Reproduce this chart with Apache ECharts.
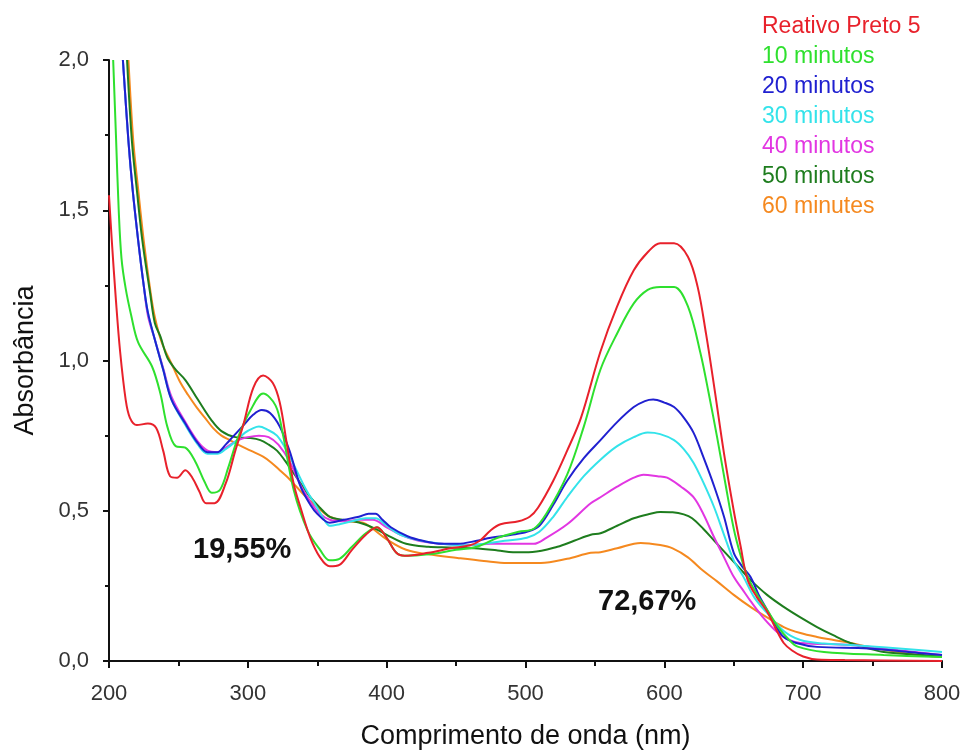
<!DOCTYPE html>
<html>
<head>
<meta charset="utf-8">
<script src="https://cdn.jsdelivr.net/npm/echarts@6/dist/echarts.min.js"></script>
<style>html,body{margin:0;padding:0;background:#fff;}#c{width:965px;height:751px;}</style>
</head>
<body>
<div id="c"></div>
<script>
const seriesNames = ['Reativo Preto 5','10 minutos','20 minutos','30 minutos','40 minutos','50 minutos','60 minutes'];
const xTicks = [200,300,400,500,600,700,800];
const yTicks = [0,0.5,1.0,1.5,2.0];

const reativo = [[200,1.55],[202,1.40],[205,1.20],[208,1.03],[212,0.87],[215,0.81],[220,0.785],[228,0.79],[234,0.775],[239,0.70],[244,0.615],[249,0.61],[255,0.635],[260,0.61],[265,0.565],[270,0.525],[276,0.525],[284,0.59],[291,0.70],[297,0.79],[304,0.91],[311,0.95],[318,0.925],[323,0.86],[328,0.725],[333,0.59],[338,0.51],[345,0.41],[352,0.345],[359,0.315],[366,0.32],[375,0.37],[385,0.42],[393,0.445],[400,0.41],[407,0.36],[413,0.35],[430,0.36],[446,0.375],[460,0.385],[467,0.40],[475,0.435],[482,0.455],[495,0.465],[503,0.48],[509,0.51],[520,0.60],[530,0.70],[540,0.81],[554,1.03],[566,1.18],[578,1.30],[588,1.36],[597,1.39],[607,1.39],[617,1.345],[624,1.245],[630,1.09],[636,0.91],[643,0.69],[650,0.50],[655,0.38],[660,0.27],[667,0.21],[674,0.165],[680,0.11],[686,0.06],[692,0.035],[700,0.015],[710,0.005],[730,0.003],[800,0.0]];

const min10 = [[203,2.0],[205,1.75],[207,1.50],[209,1.34],[212,1.24],[216,1.15],[221,1.06],[231,0.98],[237,0.89],[242,0.78],[248,0.715],[255,0.71],[262,0.665],[269,0.595],[274,0.56],[280,0.57],[286,0.645],[293,0.745],[302,0.835],[311,0.89],[320,0.85],[325,0.76],[333,0.57],[343,0.435],[352,0.37],[359,0.335],[366,0.34],[375,0.38],[385,0.425],[393,0.445],[400,0.41],[407,0.36],[413,0.35],[430,0.355],[450,0.37],[465,0.38],[480,0.41],[495,0.43],[506,0.44],[515,0.49],[530,0.62],[542,0.78],[554,0.97],[566,1.09],[578,1.19],[588,1.235],[597,1.245],[607,1.245],[617,1.18],[626,1.025],[632,0.89],[638,0.745],[644,0.59],[650,0.44],[655,0.35],[660,0.28],[667,0.22],[674,0.17],[682,0.113],[690,0.07],[696,0.048],[715,0.03],[758,0.02],[800,0.013]];

const min20 = [[210,2.0],[214,1.73],[217,1.57],[221,1.40],[225,1.25],[228,1.16],[233,1.07],[239,0.97],[245,0.87],[255,0.79],[264,0.725],[271,0.695],[278,0.695],[284,0.72],[289,0.745],[297,0.785],[304,0.82],[310,0.835],[316,0.825],[323,0.78],[330,0.70],[338,0.58],[345,0.52],[350,0.49],[359,0.46],[369,0.47],[380,0.48],[387,0.49],[392,0.49],[397,0.47],[403,0.445],[415,0.415],[426,0.40],[440,0.39],[451,0.39],[465,0.40],[475,0.41],[490,0.42],[501,0.43],[510,0.45],[520,0.52],[530,0.60],[542,0.675],[554,0.735],[566,0.795],[578,0.845],[586,0.865],[592,0.87],[600,0.86],[607,0.845],[614,0.81],[621,0.76],[628,0.68],[636,0.58],[643,0.48],[650,0.36],[656,0.315],[662,0.28],[668,0.22],[674,0.17],[680,0.12],[686,0.08],[695,0.06],[710,0.047],[747,0.042],[783,0.027],[800,0.02]];

const min30 = [[210,2.0],[214,1.73],[217,1.57],[221,1.40],[225,1.25],[228,1.16],[233,1.07],[239,0.97],[245,0.87],[255,0.785],[264,0.72],[271,0.69],[278,0.69],[284,0.705],[291,0.73],[298,0.76],[304,0.775],[308,0.78],[314,0.77],[321,0.75],[328,0.70],[335,0.635],[342,0.57],[350,0.51],[355,0.47],[359,0.45],[366,0.455],[375,0.465],[385,0.475],[392,0.475],[400,0.45],[410,0.42],[425,0.40],[440,0.39],[455,0.385],[470,0.39],[485,0.40],[501,0.41],[510,0.43],[520,0.48],[530,0.545],[542,0.615],[554,0.67],[566,0.715],[578,0.745],[588,0.76],[597,0.755],[607,0.735],[614,0.705],[621,0.66],[628,0.595],[636,0.51],[643,0.42],[650,0.335],[657,0.28],[665,0.21],[674,0.16],[686,0.10],[698,0.07],[715,0.058],[734,0.053],[760,0.045],[783,0.037],[800,0.03]];

const min40 = [[210,2.0],[214,1.73],[217,1.57],[221,1.40],[225,1.25],[228,1.15],[233,1.07],[239,0.975],[245,0.88],[255,0.795],[264,0.73],[271,0.70],[278,0.695],[284,0.71],[293,0.735],[300,0.745],[308,0.75],[315,0.745],[322,0.72],[330,0.665],[338,0.585],[345,0.53],[352,0.49],[359,0.47],[370,0.465],[380,0.47],[390,0.47],[400,0.445],[410,0.42],[423,0.40],[440,0.39],[460,0.385],[475,0.39],[490,0.39],[506,0.39],[515,0.41],[530,0.455],[547,0.525],[554,0.545],[566,0.58],[578,0.61],[585,0.62],[595,0.615],[602,0.61],[612,0.58],[621,0.545],[628,0.49],[636,0.41],[643,0.345],[650,0.28],[656,0.24],[662,0.20],[672,0.14],[682,0.093],[690,0.07],[698,0.06],[734,0.053],[770,0.035],[800,0.02]];

const min50 = [[213,2.0],[216.5,1.73],[220,1.57],[224,1.40],[229.6,1.225],[233,1.125],[237,1.08],[242,1.01],[248,0.97],[255,0.935],[264,0.87],[274,0.80],[281,0.765],[291,0.745],[302,0.742],[309,0.735],[315,0.72],[321,0.70],[327,0.665],[333,0.625],[339,0.585],[345,0.545],[352,0.51],[359,0.48],[368,0.47],[376,0.465],[384,0.455],[392,0.44],[400,0.42],[414,0.39],[430,0.38],[445,0.378],[463,0.375],[480,0.368],[491,0.362],[505,0.363],[523,0.38],[535,0.40],[547,0.42],[554,0.425],[566,0.45],[578,0.475],[590,0.49],[597,0.496],[606,0.495],[614,0.488],[620,0.475],[628,0.44],[636,0.40],[645,0.355],[655,0.305],[662,0.27],[674,0.22],[686,0.18],[698,0.145],[710,0.113],[722,0.085],[734,0.06],[746,0.043],[758,0.03],[780,0.022],[800,0.017]];

const min60 = [[214,2.0],[217.5,1.73],[221,1.57],[225,1.40],[230,1.225],[233,1.145],[238,1.06],[245,0.99],[251,0.93],[257,0.885],[263,0.845],[269,0.81],[275,0.775],[281,0.75],[287,0.735],[293,0.72],[302,0.70],[311,0.68],[317,0.66],[323,0.635],[329,0.61],[335,0.58],[341,0.55],[347,0.525],[353,0.50],[359,0.48],[370,0.465],[383,0.46],[390,0.44],[400,0.405],[414,0.37],[430,0.355],[451,0.343],[470,0.333],[487,0.326],[511,0.326],[530,0.34],[547,0.36],[554,0.362],[566,0.375],[583,0.393],[597,0.386],[606,0.375],[617,0.345],[628,0.30],[638,0.265],[650,0.22],[662,0.18],[674,0.145],[686,0.113],[698,0.093],[710,0.08],[722,0.07],[734,0.06],[746,0.048],[758,0.037],[780,0.022],[800,0.013]];

const seriesData = [reativo, min10, min20, min30, min40, min50, min60];
const colors = ['#e8212b','#2ee02e','#2020d0','#33e3ea','#e236e2','#1e7d1e','#f5891f'];
const annotations = ['19,55%','72,67%'];

const fmt = v => v.toFixed(1).replace('.', ',');
const chart = echarts.init(document.getElementById('c'), null, {renderer:'canvas'});
const FONT = '"Liberation Sans", Arial, sans-serif';
chart.setOption({
  backgroundColor:'#fff',
  animation:false,
  grid:{left:109, right:23, top:60, bottom:90, containLabel:false, outerBoundsMode:'none'},
  legend:{
    orient:'vertical', left:752, top:10, itemGap:7, icon:'none', itemWidth:0, itemHeight:0,
    selectedMode:false,
    data: seriesNames.map((n,i)=>({name:n, textStyle:{color:colors[i]}})),
    textStyle:{fontFamily:FONT, fontSize:23, padding:[0,0,0,0]}
  },
  xAxis:{
    type:'value', min:200, max:800, interval:100,
    axisLine:{show:true, onZero:false, lineStyle:{color:'#111', width:2}},
    axisTick:{show:true, length:7, inside:false, lineStyle:{color:'#111', width:2}},
    minorTick:{show:true, splitNumber:2, length:5, lineStyle:{color:'#111', width:2}},
    splitLine:{show:false},
    axisLabel:{color:'#333', fontFamily:FONT, fontSize:22, margin:22, formatter:v=>xTicks.includes(v)?String(v):''},
    name:'Comprimento de onda (nm)', nameLocation:'middle', nameGap:62,
    nameTextStyle:{color:'#111', fontFamily:FONT, fontSize:27}
  },
  yAxis:{
    type:'value', min:0, max:2, interval:0.5,
    axisLine:{show:true, onZero:false, lineStyle:{color:'#111', width:2}},
    axisTick:{show:true, length:6, inside:false, lineStyle:{color:'#111', width:2}},
    minorTick:{show:true, splitNumber:2, length:4, lineStyle:{color:'#111', width:2}},
    splitLine:{show:false},
    axisLabel:{color:'#333', fontFamily:FONT, fontSize:22, margin:20, formatter:v=>yTicks.some(t=>Math.abs(t-v)<1e-9)?fmt(v):''},
    name:'Absorbância', nameLocation:'middle', nameGap:70,
    nameTextStyle:{color:'#111', fontFamily:FONT, fontSize:27}
  },
  series: seriesNames.map((n,i)=>({
    name:n, type:'line', data:seriesData[i], showSymbol:false, symbol:'none',
    smooth:0.35, clip:true,
    lineStyle:{color:colors[i], width:2}, itemStyle:{color:colors[i]}, z:10-i
  })),
  graphic:[
    {type:'text', left:193, top:535, style:{text:annotations[0], fill:'#111', font:'bold 29px "Liberation Sans", Arial, sans-serif'}},
    {type:'text', left:598, top:587, style:{text:annotations[1], fill:'#111', font:'bold 29px "Liberation Sans", Arial, sans-serif'}}
  ]
});
</script>
</body>
</html>
